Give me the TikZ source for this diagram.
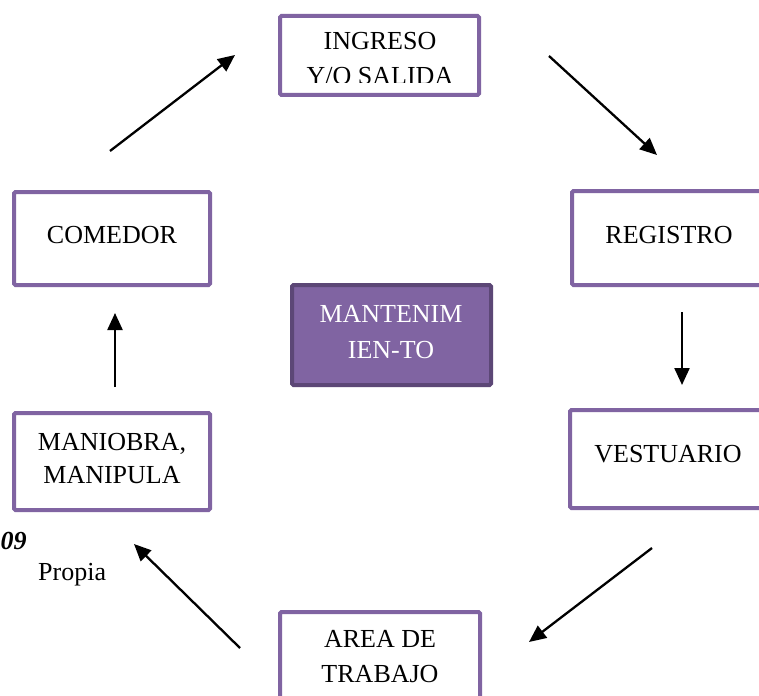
\documentclass[tikz,border=0pt]{standalone}
\usepackage{fontspec}
\setmainfont{Liberation Serif}
\usetikzlibrary{arrows.meta}
\definecolor{boxpurple}{HTML}{8064A2}
\definecolor{darkpurple}{HTML}{5C4776}
\tikzset{
  stepbox/.style={draw=boxpurple, line width=4pt, rounded corners=1.5pt, fill=white, inner sep=0pt},
  centerbox/.style={draw=darkpurple, fill=boxpurple, line width=4pt, rounded corners=1.5pt, inner sep=0pt},
  txt/.style={anchor=base, inner sep=0pt, font=\fontsize{26}{34}\selectfont},
  flow/.style={line width=2.3pt, -{Triangle[length=17pt,width=15pt]}}
}
\begin{document}
\begin{tikzpicture}[x=1pt,y=-1pt]
\useasboundingbox (0,0) rectangle (759,695);
\clip (0,0) rectangle (759,695);
\fill[white] (0,0) rectangle (759,695);
% boxes
\node[stepbox, minimum width=199pt, minimum height=79pt] (ingreso) at (379.5,55.5) {};
\node[centerbox, minimum width=199pt, minimum height=100pt] (mant) at (391.5,335) {};
\node[stepbox, minimum width=196pt, minimum height=93pt] (comedor) at (112,238.5) {};
\node[stepbox, minimum width=194pt, minimum height=94pt] (registro) at (669,238) {};
\node[stepbox, minimum width=196pt, minimum height=98pt] (vestuario) at (668,459) {};
\node[stepbox, minimum width=196pt, minimum height=97pt] (maniobra) at (112,461.5) {};
\node[stepbox, minimum width=200pt, minimum height=108pt] (area) at (380,666) {};
% texts
\begin{scope}
\clip (282,18) rectangle (477,83);
\node[txt] (t1a) at (380,50) {INGRESO};
\node[txt] (t1b) at (380,85) {Y/O SALIDA};
\end{scope}
\node[txt, text=white] (t2a) at (391,322) {MANTENIM};
\node[txt, text=white] (t2b) at (391,358) {IEN-TO};
\node[txt] (t3) at (112,243) {COMEDOR};
\node[txt] (t4) at (669,243) {REGISTRO};
\node[txt] (t5) at (668,462) {VESTUARIO};
\node[txt] (t6a) at (112,450) {MANIOBRA,};
\node[txt] (t6b) at (112,483) {MANIPULA};
\node[txt] (t7a) at (380,647) {AREA DE};
\node[txt] (t7b) at (380,682) {TRABAJO};
\node[txt, anchor=base west, font=\fontsize{26}{34}\selectfont\bfseries\itshape] (t8) at (0.5,549) {09};
\node[txt, anchor=base west] (t9) at (38,580) {Propia};
% arrow endpoints
\coordinate (a1s) at (110,151);
\coordinate (a1e) at (235,55);
\coordinate (a2s) at (549,56);
\coordinate (a2e) at (657,155);
\coordinate (a3s) at (682,312);
\coordinate (a3e) at (682,385);
\coordinate (a4s) at (652,548);
\coordinate (a4e) at (529,642);
\coordinate (a5s) at (240,648);
\coordinate (a5e) at (134,544);
\coordinate (a6s) at (115,387);
\coordinate (a6e) at (115,313);
\draw[flow] (a1s) -- (a1e);
\draw[flow] (a2s) -- (a2e);
\draw[flow] (a3s) -- (a3e);
\draw[flow] (a4s) -- (a4e);
\draw[flow] (a5s) -- (a5e);
\draw[flow] (a6s) -- (a6e);
\end{tikzpicture}
\end{document}
